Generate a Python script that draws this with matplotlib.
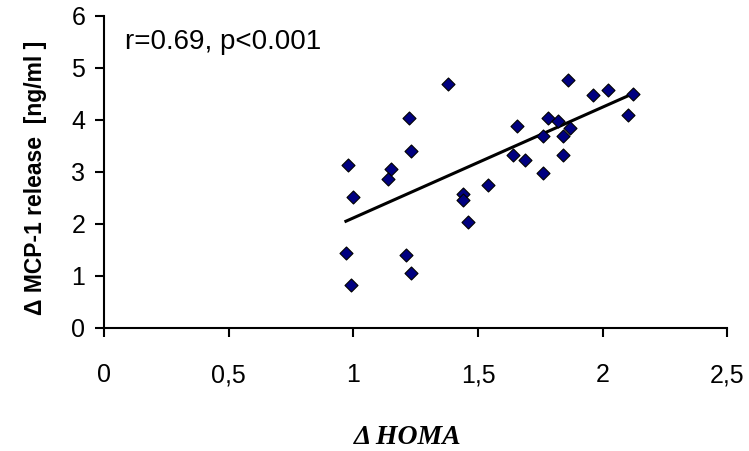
import numpy as np
import matplotlib; matplotlib.use("Agg")
import matplotlib.pyplot as plt

# change in HOMA vs change in MCP-1 release
homa = [0.98, 1.00, 0.97, 0.99, 1.15, 1.14, 1.225, 1.23, 1.21, 1.23,
        1.38, 1.44, 1.44, 1.46, 1.54, 1.655, 1.64, 1.69, 1.76, 1.76,
        1.78, 1.82, 1.84, 1.84, 1.87, 1.86, 1.96, 2.02, 2.12, 2.10]
mcp1 = [3.13, 2.51, 1.43, 0.83, 3.06, 2.86, 4.04, 3.40, 1.41, 1.06,
        4.68, 2.57, 2.46, 2.03, 2.75, 3.89, 3.33, 3.23, 2.98, 3.68,
        4.04, 3.98, 3.68, 3.33, 3.85, 4.76, 4.47, 4.58, 4.49, 4.10]

# regression line as drawn
fit_slope = 2.13
fit_intercept = -0.016

x_ticks = [0, 0.5, 1, 1.5, 2, 2.5]
x_labels = ["0", "0,5", "1", "1,5", "2", "2,5"]
y_ticks = [0, 1, 2, 3, 4, 5, 6]

plt.rcParams["font.family"] = ["Liberation Sans", "DejaVu Sans"]

fig = plt.figure(figsize=(7.49, 4.51), dpi=100)
ax = fig.add_axes([0.139, 0.273, 0.832, 0.692])

xs = np.array([min(homa), max(homa)])
ax.plot(xs, fit_intercept + fit_slope * xs, color="black", lw=2.2, zorder=2)
ax.scatter(homa, mcp1, marker="D", s=44, color="#000080",
           edgecolors="black", linewidths=0.8, zorder=3)

ax.set_xlim(0, 2.5)
ax.set_ylim(0, 6)
ax.set_xticks(x_ticks)
ax.set_xticklabels(x_labels)
ax.set_yticks(y_ticks)
ax.tick_params(direction="out", length=6.5, width=1.5, labelsize=18)
ax.tick_params(axis="x", pad=19)
ax.tick_params(axis="y", pad=7)
for s in ["top", "right"]:
    ax.spines[s].set_visible(False)
for s in ["left", "bottom"]:
    ax.spines[s].set_linewidth(1.5)

ax.text(0.085, 5.5, "r=0.69, p<0.001", fontsize=20, va="center", ha="left")

fig.text(0.048, 0.605, "Δ MCP-1 release  [ng/ml ]", rotation=90,
         fontsize=16.5, fontweight="bold", ha="center", va="center")
fig.text(0.544, 0.03, "Δ HOMA", fontsize=20, fontweight="bold",
         fontstyle="italic", family=["Liberation Serif", "DejaVu Serif"],
         ha="center", va="center")

fig.savefig("out.png", dpi=100)
